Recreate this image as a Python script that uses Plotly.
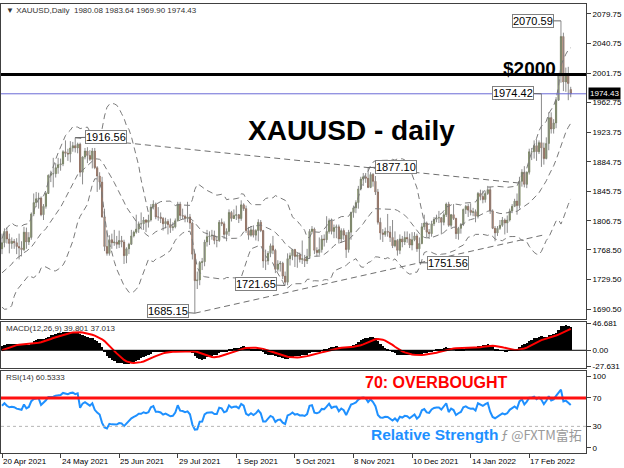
import plotly.graph_objects as go
import math

# ---------------- data ----------------
# closes before the visible window (used only to warm up the indicators)
warmup_close = [1861, 1838, 1834, 1793, 1814, 1831, 1838, 1842, 1825, 1824,
                1819, 1794, 1775, 1775, 1784, 1809, 1805, 1797, 1770, 1733,
                1723, 1737, 1715, 1698, 1700, 1683, 1716, 1726, 1722, 1719,
                1731, 1731, 1745, 1736, 1745, 1738, 1727, 1734, 1725, 1732,
                1712, 1685, 1708, 1729, 1728, 1728, 1744, 1737, 1756, 1744,
                1733, 1746, 1736, 1764, 1777, 1770]

open_ = [1770, 1778, 1793, 1783, 1777, 1780, 1778, 1773, 1771, 1769, 1792, 1779, 1785, 1816, 1831, 1836, 1837, 1815, 1826, 1843,
         1867, 1869, 1869, 1877, 1881, 1882, 1898, 1896, 1895, 1903, 1906, 1903, 1908, 1871, 1891, 1899, 1893, 1888, 1899, 1877,
         1866, 1858, 1812, 1773, 1764, 1782, 1778, 1779, 1776, 1781, 1779, 1761, 1770, 1776, 1787, 1792, 1796, 1803, 1803, 1808,
         1805, 1808, 1825, 1829, 1812, 1812, 1810, 1803, 1806, 1802, 1798, 1799, 1807, 1829, 1814, 1813, 1810, 1812, 1804, 1763,
         1728, 1729, 1752, 1753, 1779, 1786, 1787, 1788, 1781, 1781, 1805, 1803, 1789, 1793, 1818, 1810, 1814, 1815, 1810, 1828,
         1823, 1794, 1788, 1795, 1788, 1794, 1805, 1794, 1754, 1754, 1764, 1774, 1768, 1743, 1750, 1751, 1734, 1726, 1757, 1761,
         1769, 1760, 1762, 1756, 1757, 1754, 1760, 1793, 1796, 1768, 1765, 1769, 1783, 1782, 1793, 1807, 1793, 1798, 1799, 1783,
         1794, 1788, 1769, 1792, 1818, 1824, 1831, 1849, 1862, 1865, 1863, 1851, 1868, 1859, 1845, 1805, 1791, 1789, 1793, 1792,
         1785, 1774, 1781, 1768, 1783, 1779, 1785, 1783, 1775, 1782, 1787, 1770, 1777, 1799, 1804, 1792, 1790, 1803, 1809, 1811,
         1811, 1805, 1815, 1829, 1801, 1815, 1810, 1790, 1797, 1802, 1822, 1826, 1821, 1818, 1819, 1813, 1843, 1839, 1835, 1843,
         1848, 1820, 1797, 1791, 1797, 1801, 1808, 1804, 1808, 1820, 1826, 1833, 1827, 1859, 1871, 1855, 1871, 1898, 1898, 1906,
         1898, 1910, 1903, 1889, 1909, 1943, 1928, 1936, 1966, 1998, 2050, 1990, 2000, 1980.08]

high = [1790, 1797, 1798, 1790, 1785, 1783, 1784, 1790, 1780, 1799, 1798, 1792, 1818, 1843, 1845, 1844, 1839, 1829, 1845, 1868,
        1873, 1890, 1883, 1890, 1889, 1900, 1913, 1902, 1912, 1911, 1916.56, 1910, 1910, 1892, 1903, 1904, 1900, 1903, 1903, 1879,
        1871, 1865, 1823, 1795, 1788, 1790, 1795, 1787, 1794, 1787, 1782, 1772, 1778, 1795, 1794, 1815, 1806, 1818, 1812, 1809,
        1815, 1829, 1834, 1831, 1825, 1818, 1812, 1811, 1809, 1810, 1805, 1810, 1832, 1832, 1823, 1815, 1832, 1816, 1806, 1764,
        1740, 1754, 1758, 1782, 1795, 1793, 1795, 1794, 1787, 1808, 1810, 1806, 1797, 1822, 1820, 1822, 1827, 1816, 1834, 1830,
        1827, 1799, 1800, 1801, 1796, 1809, 1808, 1795, 1769, 1767, 1777, 1787, 1770, 1755, 1754, 1753, 1740, 1764, 1765, 1770,
        1770, 1765, 1765, 1781, 1762, 1770, 1796, 1800, 1798, 1772, 1785, 1788, 1789, 1813, 1810, 1810, 1802, 1802, 1802, 1797,
        1797, 1792, 1795, 1819, 1827, 1834, 1853, 1865, 1870, 1870, 1877.10, 1871, 1870, 1866, 1849, 1811, 1796, 1798, 1816, 1800,
        1808, 1793, 1783, 1789, 1787, 1793, 1793, 1790, 1792, 1792, 1790, 1785, 1804, 1815, 1806, 1796, 1807, 1812, 1815, 1820,
        1812, 1818, 1831, 1832, 1816, 1829, 1811, 1799, 1804, 1823, 1828, 1829, 1830, 1824, 1822, 1845, 1848, 1847, 1846, 1853,
        1852, 1822, 1800, 1800, 1808, 1812, 1810, 1814, 1823, 1829, 1836, 1843, 1865, 1875, 1879, 1872, 1902, 1903, 1913, 1914,
        1913, 1974.42, 1910, 1917, 1950, 1950, 1941, 1970, 2002, 2070.59, 2055, 2009, 2010, 1983.64]

low = [1763, 1772, 1777, 1764, 1770, 1770, 1763, 1756, 1760, 1767, 1770, 1775, 1782, 1813, 1825, 1823, 1813, 1808, 1823, 1843,
       1858, 1851, 1864, 1869, 1873, 1879, 1891, 1886, 1884, 1898, 1897, 1896, 1865, 1855, 1888, 1883, 1886, 1876, 1875, 1845,
       1848, 1811, 1767, 1761, 1761, 1770, 1774, 1770, 1771, 1772, 1750, 1751, 1763, 1775, 1785, 1790, 1791, 1797, 1795, 1792,
       1798, 1806, 1822, 1809, 1807, 1804, 1794, 1797, 1789, 1791, 1794, 1797, 1806, 1809, 1809, 1805, 1805, 1796, 1756, 1685.15,
       1717, 1722, 1742, 1747, 1773, 1775, 1782, 1776, 1772, 1779, 1800, 1783, 1780, 1787, 1806, 1810, 1808, 1804, 1807, 1820,
       1791, 1782, 1786, 1785, 1781, 1780, 1792, 1745, 1742, 1749, 1759, 1763, 1738, 1740, 1740, 1730, 1721.65, 1722, 1748, 1755,
       1746, 1745, 1752, 1750, 1746, 1750, 1757, 1790, 1763, 1760, 1762, 1765, 1773, 1778, 1790, 1789, 1784, 1784, 1777, 1778,
       1782, 1758, 1765, 1782, 1811, 1817, 1823, 1847, 1853, 1857, 1850, 1850, 1852, 1841, 1802, 1782, 1779, 1786, 1786, 1779,
       1771, 1772, 1761, 1763, 1772, 1775, 1778, 1771, 1768, 1780, 1766, 1751.56, 1776, 1795, 1785, 1783, 1786, 1800, 1805, 1804,
       1789, 1801, 1812, 1799, 1798, 1808, 1783, 1782, 1790, 1800, 1816, 1812, 1814, 1813, 1805, 1810, 1834, 1830, 1831, 1841,
       1816, 1796, 1780, 1787, 1795, 1799, 1789, 1791, 1806, 1817, 1825, 1815, 1823, 1852, 1851, 1850, 1868, 1887, 1889, 1886,
       1895, 1878, 1881, 1888, 1900, 1922, 1922, 1929, 1965, 1989, 1978, 1977, 1966, 1969.90]

close = [1778, 1793, 1783, 1777, 1780, 1778, 1773, 1771, 1769, 1792, 1779, 1785, 1816, 1831, 1836, 1837, 1815, 1826, 1843, 1867,
         1869, 1869, 1877, 1881, 1882, 1898, 1896, 1895, 1903, 1906, 1903, 1908, 1871, 1891, 1899, 1893, 1888, 1899, 1877, 1866,
         1858, 1812, 1773, 1764, 1782, 1778, 1779, 1776, 1781, 1779, 1761, 1770, 1776, 1787, 1792, 1796, 1803, 1803, 1808, 1805,
         1808, 1825, 1829, 1812, 1812, 1810, 1803, 1806, 1802, 1798, 1799, 1807, 1829, 1814, 1813, 1810, 1812, 1804, 1763, 1728,
         1729, 1752, 1753, 1779, 1786, 1787, 1788, 1781, 1781, 1805, 1803, 1789, 1793, 1818, 1810, 1814, 1815, 1810, 1828, 1823,
         1794, 1788, 1795, 1788, 1794, 1805, 1794, 1754, 1754, 1764, 1774, 1768, 1743, 1750, 1751, 1734, 1726, 1757, 1761, 1769,
         1760, 1762, 1756, 1757, 1754, 1760, 1793, 1796, 1768, 1765, 1769, 1783, 1782, 1793, 1807, 1793, 1798, 1799, 1783, 1794,
         1788, 1769, 1792, 1818, 1824, 1831, 1849, 1862, 1865, 1863, 1851, 1868, 1859, 1845, 1805, 1791, 1789, 1793, 1792, 1785,
         1774, 1781, 1768, 1783, 1779, 1785, 1783, 1775, 1782, 1787, 1770, 1777, 1799, 1804, 1792, 1790, 1803, 1809, 1811, 1811,
         1805, 1815, 1829, 1801, 1815, 1810, 1790, 1797, 1802, 1822, 1826, 1821, 1818, 1819, 1813, 1843, 1839, 1835, 1843, 1848,
         1820, 1797, 1791, 1797, 1801, 1808, 1804, 1808, 1820, 1826, 1833, 1827, 1859, 1871, 1855, 1871, 1898, 1898, 1906, 1898,
         1910, 1903, 1889, 1909, 1943, 1928, 1936, 1966, 1998, 2050, 1990, 2000, 1988, 1974.43]

x_label_bars = [0, 24, 48, 72, 96, 120, 144, 168, 192, 216]
x_labels = ["20 Apr 2021", "24 May 2021", "25 Jun 2021", "29 Jul 2021", "1 Sep 2021",
            "5 Oct 2021", "8 Nov 2021", "10 Dec 2021", "14 Jan 2022", "17 Feb 2022"]

price_ticks = [2079.75, 2040.75, 2001.75, 1962.75, 1923.75, 1884.75, 1845.75, 1806.75, 1768.50, 1729.50, 1690.50]
macd_ticks = [46.681, 0.0, -27.631]
macd_tick_text = ["46.681", "0.00", "-27.631"]
rsi_ticks = [100, 70, 30, 0]

round_level = 2000
overbought = 70
oversold = 30

# labelled swing points: (bar, 'high'/'low', box offset px x, y)
swing_labels = [(30, "high", 31, -1), (229, "high", -28, 0), (221, "high", -28, -1),
                (150, "high", 28, -1), (171, "low", 29, 0), (116, "low", -29, -1), (79, "low", -27, -2)]
upper_trend = (30, 150, 212)   # from swing high, through swing high, extend to bar
lower_trend = (79, 171, 222)   # from swing low, through swing low, extend to bar

n = len(close)
idx = list(range(n))

# ---------------- indicators ----------------
allc = warmup_close + close
W = len(warmup_close)


def ema(v, p):
    a = 2.0 / (p + 1)
    out = [v[0]]
    for val in v[1:]:
        out.append(a * val + (1 - a) * out[-1])
    return out


e12, e26 = ema(allc, 12), ema(allc, 26)
macd_all = [a - b for a, b in zip(e12, e26)]
sig_all = [None] * len(macd_all)
for i in range(8, len(macd_all)):
    sig_all[i] = sum(macd_all[i - 8:i + 1]) / 9.0
macd = macd_all[W:]
signal = sig_all[W:]

# RSI 14 (Wilder)
rsi_all = [None] * len(allc)
gains = [max(allc[i] - allc[i - 1], 0) for i in range(1, len(allc))]
losses = [max(allc[i - 1] - allc[i], 0) for i in range(1, len(allc))]
ag = sum(gains[:14]) / 14.0
al = sum(losses[:14]) / 14.0
rsi_all[14] = 100 - 100 / (1 + ag / al) if al else 100
for i in range(14, len(gains)):
    ag = (ag * 13 + gains[i]) / 14.0
    al = (al * 13 + losses[i]) / 14.0
    rsi_all[i + 1] = 100 - 100 / (1 + ag / al) if al else 100
rsi = rsi_all[W:]

# Bollinger bands (20, 2)
bb_mid, bb_up, bb_lo = [], [], []
for i in range(W, len(allc)):
    win = allc[i - 19:i + 1]
    m = sum(win) / 20.0
    sd = math.sqrt(sum((v - m) ** 2 for v in win) / 20.0)
    bb_mid.append(m)
    bb_up.append(m + 2 * sd)
    bb_lo.append(m - 2 * sd)

# ---------------- geometry ----------------
W_PX, H_PX = 624, 468
R_M, B_M = 38, 15
PLOT_H = H_PX - B_M
PLOT_W = W_PX - R_M


def py(y):
    return (PLOT_H - y) / PLOT_H


def px(x):
    return x / PLOT_W


XR = [-0.41, 239.26]
FONT = "Liberation Sans"

fig = go.Figure()

# wicks
wx, wy = [], []
for i in idx:
    wx += [i, i, None]
    wy += [low[i], high[i], None]
fig.add_trace(go.Scatter(x=wx, y=wy, mode="lines", line=dict(color="#8c8c8c", width=1),
                         hoverinfo="skip", xaxis="x", yaxis="y"))

# Bollinger bands
for band in (bb_up, bb_mid, bb_lo):
    fig.add_trace(go.Scatter(x=idx, y=band, mode="lines",
                             line=dict(color="#7a7a7a", width=1, dash="6px,4px"),
                             hoverinfo="skip", xaxis="x", yaxis="y"))

body_hi = [max(o, c) for o, c in zip(open_, close)]
body_lo = [min(o, c) for o, c in zip(open_, close)]
fig.add_trace(go.Candlestick(x=idx, open=open_, high=body_hi, low=body_lo, close=close,
                             increasing=dict(fillcolor="#6b8e23", line=dict(color="#4d5d2d", width=0.6)),
                             decreasing=dict(fillcolor="#c2562a", line=dict(color="#6e3a22", width=0.6)),
                             whiskerwidth=0, xaxis="x", yaxis="y", hoverinfo="skip"))

# MACD
fig.add_trace(go.Bar(x=idx, y=macd, marker=dict(color="black", line=dict(width=0)), width=1.0,
                     xaxis="x2", yaxis="y2", hoverinfo="skip"))
fig.add_trace(go.Scatter(x=idx, y=signal, mode="lines", line=dict(color="#ff0000", width=2),
                         xaxis="x2", yaxis="y2", hoverinfo="skip"))

# RSI
fig.add_trace(go.Scatter(x=idx, y=rsi, mode="lines", line=dict(color="#1e90ff", width=2),
                         xaxis="x3", yaxis="y3", hoverinfo="skip"))

shapes = []
# trend lines
for (a, b, e), key in ((upper_trend, high), (lower_trend, low)):
    slope = (key[b] - key[a]) / (b - a)
    shapes.append(dict(type="line", xref="x", yref="y", x0=a, y0=key[a], x1=e, y1=key[a] + slope * (e - a),
                       line=dict(color="#707070", width=1, dash="6px,4px"), layer="above"))
# $2000 line and bid line
shapes.append(dict(type="line", xref="paper", yref="y", x0=0, x1=1, y0=round_level, y1=round_level,
                   line=dict(color="black", width=3)))
shapes.append(dict(type="line", xref="paper", yref="y", x0=0, x1=1, y0=close[-1], y1=close[-1],
                   line=dict(color="#6b6bd6", width=1)))
# MACD zero line
shapes.append(dict(type="line", xref="paper", yref="y2", x0=0, x1=1, y0=0, y1=0,
                   line=dict(color="black", width=1)))
# RSI levels
shapes.append(dict(type="line", xref="paper", yref="y3", x0=0, x1=1, y0=oversold, y1=oversold,
                   line=dict(color="#b5b5b5", width=1, dash="dot")))
shapes.append(dict(type="line", xref="paper", yref="y3", x0=0, x1=1, y0=overbought, y1=overbought,
                   line=dict(color="#ff1010", width=3)))

ann = []
# swing labels
for bar, kind, dx, dy in swing_labels:
    val = high[bar] if kind == "high" else low[bar]
    ann.append(dict(x=bar, y=val, xref="x", yref="y", text=f"{val:.2f}", showarrow=True,
                    arrowhead=0, arrowwidth=1, arrowcolor="#666666", ax=dx, ay=dy, standoff=0,
                    bgcolor="white", bordercolor="#808080", borderwidth=1, borderpad=0,
                    font=dict(family=FONT, size=11, color="black")))
# x axis labels
for b, t in zip(x_label_bars, x_labels):
    ann.append(dict(x=b, y=0, xref="x3", yref="paper", text=t, showarrow=False, xanchor="left",
                    yanchor="top", xshift=-1, yshift=-2, font=dict(family=FONT, size=8, color="black")))


def label(x, y, text, size, color, family=FONT, xa="center"):
    ann.append(dict(x=px(x), y=py(y), xref="paper", yref="paper", xanchor=xa, yanchor="middle",
                    showarrow=False, text=text, font=dict(family=family, size=size, color=color)))


# headers
label(3, 8, "▼ XAUUSD,Daily  1980.08 1983.64 1969.90 1974.43", 8, "#333333", xa="left")
label(3, 328, "MACD(12,26,9) 39.801 37.013", 8, "#333333", xa="left")
label(3, 377, "RSI(14) 60.5333", 8, "#333333", xa="left")
# big texts
label(351, 128, "<b>XAUUSD - daily</b>", 28, "black")
label(529, 66, "<b>$2000</b>", 19, "black")
label(436, 382, "<b>70: OVERBOUGHT</b>", 16, "#ff0000")
label(434, 434, "<b>Relative Strength</b>", 15.5, "#1e90ff")
label(541, 434, "ƒ @FXTM富拓", 13, "#9a9a9a", family="Noto Sans CJK SC")

# current price tag
ann.append(dict(x=1, y=close[-1], xref="paper", yref="y", xanchor="left", yanchor="middle", xshift=2,
                showarrow=False, text=f"{close[-1]:.2f}", bgcolor="black", borderpad=1,
                font=dict(family=FONT, size=8, color="white")))

axis_common = dict(showline=True, mirror=True, linecolor="#404040", linewidth=1, showgrid=False,
                   zeroline=False, range=XR, fixedrange=True)
yax_common = dict(side="right", showline=True, mirror=True, linecolor="#404040", linewidth=1,
                  showgrid=False, zeroline=False, ticks="outside", ticklen=4, tickcolor="#404040",
                  tickfont=dict(family=FONT, size=8, color="black"))

fig.update_layout(
    width=W_PX, height=H_PX, margin=dict(l=0, r=R_M, t=0, b=B_M),
    paper_bgcolor="white", plot_bgcolor="white", showlegend=False, bargap=0,
    xaxis=dict(axis_common, domain=[0, 1], anchor="y", showticklabels=False, rangeslider=dict(visible=False)),
    xaxis2=dict(axis_common, domain=[0, 1], anchor="y2", showticklabels=False),
    xaxis3=dict(axis_common, domain=[0, 1], anchor="y3", showticklabels=False, ticks="outside",
                ticklen=4, tickcolor="#404040", tickvals=x_label_bars),
    yaxis=dict(yax_common, domain=[py(318), py(1)], range=[1677.6, 2092.85],
               tickvals=price_ticks, ticktext=[f"{v:.2f}" for v in price_ticks]),
    yaxis2=dict(yax_common, domain=[py(367), py(321)], range=[-29.8, 49.0],
                tickvals=macd_ticks, ticktext=macd_tick_text),
    yaxis3=dict(yax_common, domain=[0, py(370)], range=[-7.4, 108.4],
                tickvals=rsi_ticks, ticktext=[str(v) for v in rsi_ticks]),
    shapes=shapes, annotations=ann,
)

fig.write_html("out.html")
